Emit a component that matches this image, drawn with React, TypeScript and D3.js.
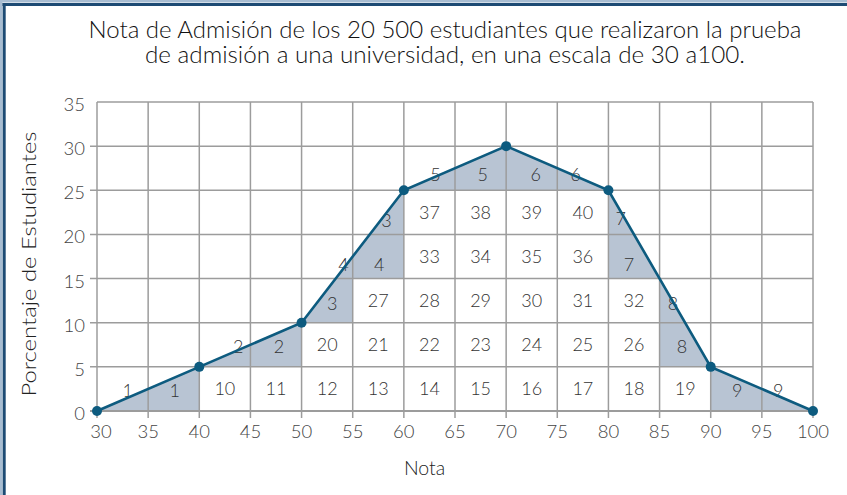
import React from "react";
import * as d3 from "d3";

const notas = [30, 40, 50, 60, 70, 80, 90, 100];
const porcentajes = [0, 5, 10, 25, 30, 25, 5, 0];
const xTicks = [30, 35, 40, 45, 50, 55, 60, 65, 70, 75, 80, 85, 90, 95, 100];
const yTicks = [0, 5, 10, 15, 20, 25, 30, 35];

// full cell labels: [column start, row start, label]
const cellLabels: [number, number, string][] = [
  [40, 0, "10"], [45, 0, "11"], [50, 0, "12"], [55, 0, "13"], [60, 0, "14"], [65, 0, "15"],
  [70, 0, "16"], [75, 0, "17"], [80, 0, "18"], [85, 0, "19"],
  [50, 5, "20"], [55, 5, "21"], [60, 5, "22"], [65, 5, "23"], [70, 5, "24"], [75, 5, "25"], [80, 5, "26"],
  [55, 10, "27"], [60, 10, "28"], [65, 10, "29"], [70, 10, "30"], [75, 10, "31"], [80, 10, "32"],
  [60, 15, "33"], [65, 15, "34"], [70, 15, "35"], [75, 15, "36"],
  [60, 20, "37"], [65, 20, "38"], [70, 20, "39"], [75, 20, "40"],
];
// partial (triangle) labels: [nota, porcentaje, label]
const partialLabels: [number, number, string][] = [
  [33.0, 2.3, "1"], [37.6, 2.3, "1"],
  [43.8, 7.3, "2"], [47.8, 7.3, "2"],
  [53.0, 12.2, "3"], [54.1, 16.6, "4"], [57.6, 16.6, "4"], [58.3, 21.6, "3"],
  [63.1, 26.8, "5"], [67.7, 26.8, "5"], [72.9, 26.8, "6"], [76.8, 26.8, "6"],
  [81.2, 21.8, "7"], [82.0, 16.6, "7"], [86.3, 12.2, "8"], [87.2, 7.3, "8"],
  [92.6, 2.3, "9"], [96.6, 2.3, "9"],
];

const title1 = "Nota de Admisión de los 20 500 estudiantes que realizaron la prueba";
const title2 = "de admisión a una universidad, en una escala de 30 a100.";

const FONT = "Lato, 'Open Sans', sans-serif";
const WEIGHT = 300;

export default function App() {
  const W = 847, H = 495;
  const x = d3.scaleLinear().domain([30, 100]).range([97, 813]);
  const y = d3.scaleLinear().domain([0, 35]).range([411, 102]);
  const interp = (v: number) => {
    const f = d3.scaleLinear().domain(notas).range(porcentajes);
    return f(v);
  };
  // shaded polygons per 5-unit column
  const shades: string[] = [];
  for (let c = 30; c < 100; c += 5) {
    const a = interp(c), b = interp(c + 5);
    const floor = Math.floor(Math.min(a, b) / 5 + 1e-9) * 5;
    const pts: [number, number][] = [
      [x(c), y(floor)], [x(c), y(a)], [x(c + 5), y(b)], [x(c + 5), y(floor)],
    ];
    shades.push("M" + pts.map((p) => p.join(",")).join("L") + "Z");
  }
  const line = d3.line<number>().x((_, i) => x(notas[i])).y((d) => y(d));
  const gridColor = "#9c9c9c";
  const textColor = "#333";
  return (
    <svg width={W} height={H} style={{ position: "absolute", left: 0, top: 0, background: "#fff" }}>
      {/* frame */}
      <line x1={0} y1={1.2} x2={W} y2={1.2} stroke="#a8bdd2" strokeWidth={2.4} />
      <line x1={1.2} y1={0} x2={1.2} y2={H} stroke="#a8bdd2" strokeWidth={2.4} />
      <line x1={2.5} y1={4.5} x2={W} y2={4.5} stroke="#1d4b74" strokeWidth={3} />
      <line x1={4.2} y1={3} x2={4.2} y2={H} stroke="#1d4b74" strokeWidth={3} />

      {/* title */}
      <text x={445} y={38} textAnchor="middle" fontFamily={FONT} fontWeight={WEIGHT} fontSize={22.5} fill="#111"
        textLength={713} lengthAdjust="spacingAndGlyphs">{title1}</text>
      <text x={445} y={63} textAnchor="middle" fontFamily={FONT} fontWeight={WEIGHT} fontSize={22.5} fill="#111"
        textLength={600} lengthAdjust="spacingAndGlyphs">{title2}</text>

      {/* shading */}
      {shades.map((d, i) => (
        <path key={i} d={d} fill="#b8c4d3" />
      ))}

      {/* grid */}
      {xTicks.map((t) => (
        <line key={"gx" + t} x1={x(t)} x2={x(t)} y1={y(35)} y2={y(0) + 7} stroke={gridColor} strokeWidth={1.5} />
      ))}
      {yTicks.map((t) => (
        <line key={"gy" + t} x1={t === 35 ? x(30) : x(30) - 7} x2={x(100)} y1={y(t)} y2={y(t)} stroke={gridColor}
          strokeWidth={t === 0 ? 2 : 1.5} />
      ))}

      {/* tick labels */}
      {xTicks.map((t) => (
        <text key={"tx" + t} x={x(t) + (t === 30 ? 4 : 0)} y={438} textAnchor="middle" fontFamily={FONT}
          fontWeight={WEIGHT} fontSize={18.5} fill="#444">{t}</text>
      ))}
      {yTicks.map((t) => (
        <text key={"ty" + t} x={85} y={y(t) + 9} textAnchor="end" fontFamily={FONT} fontWeight={WEIGHT}
          fontSize={18.5} fill="#444">{t}</text>
      ))}

      {/* cell labels */}
      {cellLabels.map(([c, r, s], i) => (
        <text key={"c" + i} x={x(c + 2.5)} y={y(r + 2.5) + 6.5} textAnchor="middle" fontFamily={FONT}
          fontWeight={WEIGHT} fontSize={18} fill={textColor}>{s}</text>
      ))}
      {partialLabels.map(([c, r, s], i) => (
        <text key={"p" + i} x={x(c)} y={y(r) + 6.5} textAnchor="middle" fontFamily={FONT}
          fontWeight={WEIGHT} fontSize={18} fill={textColor}>{s}</text>
      ))}

      {/* line and points */}
      <path d={line(porcentajes) || ""} fill="none" stroke="#0d5b7f" strokeWidth={2.6} />
      {notas.map((n, i) => (
        <circle key={"pt" + i} cx={x(n)} cy={y(porcentajes[i])} r={5} fill="#0d5b7f" />
      ))}

      {/* axis titles */}
      <text x={424.5} y={475} textAnchor="middle" fontFamily={FONT} fontWeight={WEIGHT} fontSize={19.5}
        fill="#222">Nota</text>
      <text transform={`translate(36,264) rotate(-90)`} textAnchor="middle" fontFamily={FONT} fontWeight={WEIGHT}
        fontSize={19.5} fill="#222" textLength={265} lengthAdjust="spacingAndGlyphs">Porcentaje de Estudiantes</text>
    </svg>
  );
}
